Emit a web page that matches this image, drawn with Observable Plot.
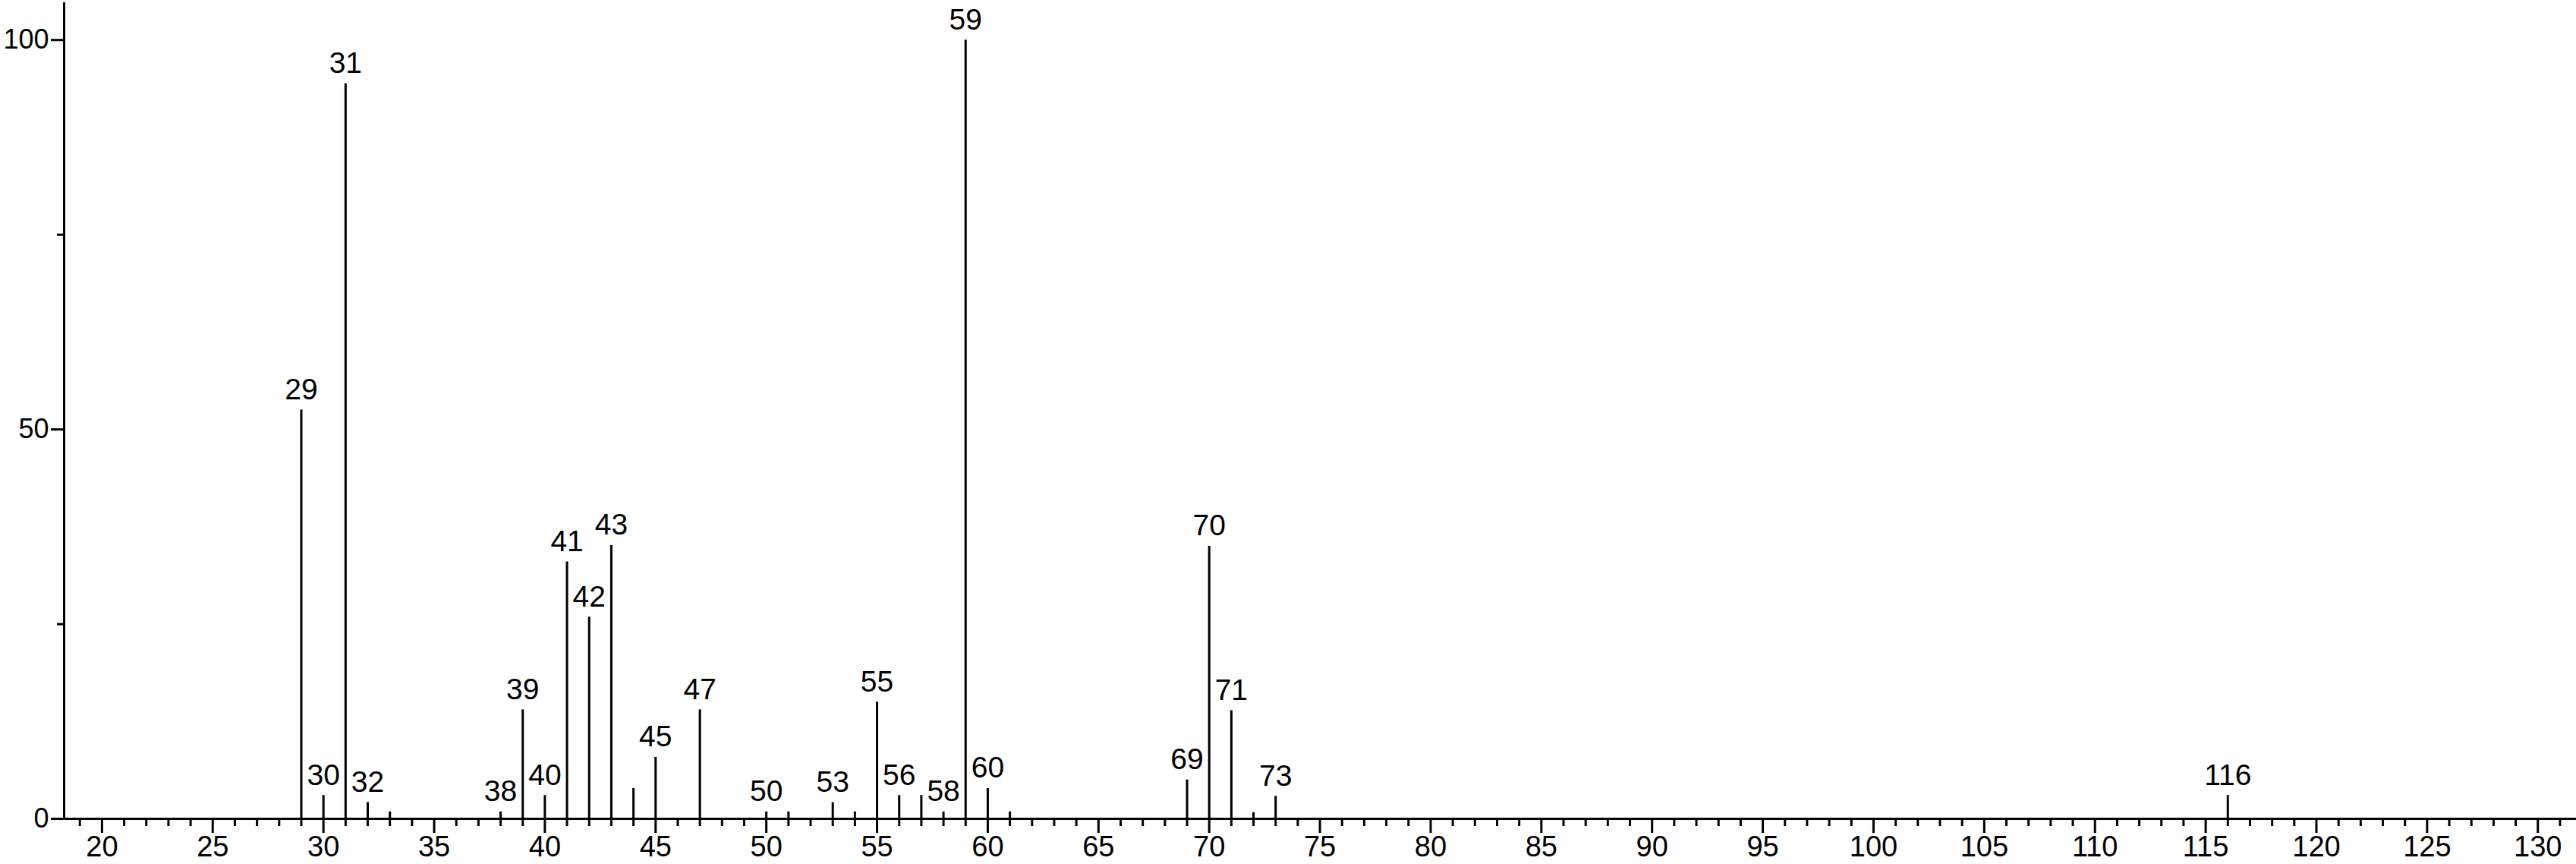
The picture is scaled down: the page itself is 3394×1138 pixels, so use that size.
<!DOCTYPE html>
<html>
<head>
<meta charset="utf-8">
<script src="https://cdn.jsdelivr.net/npm/d3@7"></script>
<script src="https://cdn.jsdelivr.net/npm/@observablehq/plot@0.6"></script>
<style>
  html, body { margin: 0; padding: 0; background: white; }
</style>
</head>
<body>
<div id="chart"></div>
<script>
// m/z values of peaks
const mz = [29, 30, 31, 32, 33, 38, 39, 40, 41, 42, 43, 44, 45, 47, 50, 51, 53, 54, 55, 56, 57, 58, 59, 60, 61, 69, 70, 71, 72, 73, 116];
// relative intensities
const intensity = [52.5, 3.0, 94.4, 2.1, 0.9, 0.9, 14.0, 3.0, 33.0, 25.9, 35.1, 3.9, 7.9, 14.0, 0.9, 0.9, 2.1, 0.9, 15.0, 3.0, 3.0, 0.9, 100, 3.9, 0.9, 5.0, 35.0, 13.9, 0.8, 2.9, 3.0];
// peaks that carry a label
const labeled = [29, 30, 31, 32, 38, 39, 40, 41, 42, 43, 45, 47, 50, 53, 55, 56, 58, 59, 60, 69, 70, 71, 73, 116];
// axis ticks
const xMajorTicks = d3.range(20, 131, 5);
const xMinorTicks = d3.range(19, 132, 1).filter(v => v % 5 !== 0);
const yMajorTicks = [0, 50, 100];
const yMinorTicks = [25, 75];

const peaks = mz.map((m, i) => ({mz: m, intensity: intensity[i]}));
const labelPeaks = peaks.filter(d => labeled.includes(d.mz));

const xDomain = [18.29, 131.74];
const yDomain = [0, 104.8];

const chart = Plot.plot({
  width: 3394,
  height: 1138,
  marginLeft: 84,
  marginRight: 0,
  marginTop: 3,
  marginBottom: 60,
  x: {domain: xDomain},
  y: {domain: yDomain},
  style: {fontFamily: "Liberation Sans", fontSize: "38px", background: "white", color: "black"},
  marks: [
    // minor ticks
    Plot.axisX({ticks: xMinorTicks, tickSize: 10, strokeWidth: 3, text: null, label: null}),
    Plot.axisX({ticks: xMajorTicks, tickSize: 19, tickPadding: 4, strokeWidth: 3, fontSize: 38, label: null, tickFormat: d => String(d)}),
    Plot.axisY({ticks: yMinorTicks, tickSize: 9, strokeWidth: 3, text: null, label: null}),
    Plot.axisY({ticks: yMajorTicks, tickSize: 17, tickPadding: 3, strokeWidth: 3, fontSize: 36, label: null, tickFormat: d => String(d)}),
    // axis lines
    Plot.ruleY([0], {stroke: "black", strokeWidth: 3}),
    Plot.ruleX([xDomain[0]], {stroke: "black", strokeWidth: 3}),
    // peaks
    Plot.ruleX(peaks, {x: "mz", y1: 0, y2: "intensity", stroke: "black", strokeWidth: 3}),
    Plot.text(labelPeaks, {x: "mz", y: "intensity", text: d => String(d.mz), dy: -14, lineAnchor: "bottom", textAnchor: "middle", fontSize: 39, fill: "black"})
  ]
});
document.getElementById("chart").appendChild(chart);
</script>
</body>
</html>
